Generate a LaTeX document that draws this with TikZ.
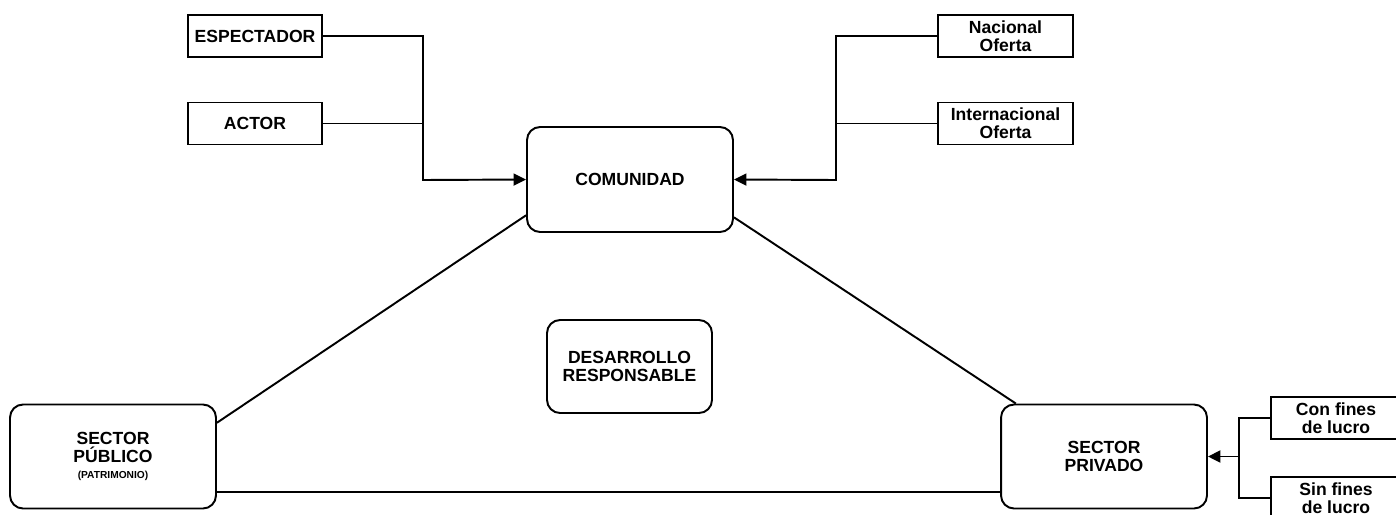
\documentclass[tikz,border=0pt]{standalone}
\usepackage{fontspec}
\setmainfont{Liberation Sans}
\usetikzlibrary{
    arrows.meta,
    calc,
    positioning
}
\tikzset{
    caja/.style={draw, line width=1.1pt, minimum width=2.68cm, minimum height=0.84cm,
        align=center, inner sep=1pt, font=\fontsize{10}{10}\selectfont\bfseries},
    bloque/.style={caja, rounded corners=0.26cm, minimum width=4.12cm, minimum height=2.08cm},
    linea/.style={line width=1.1pt},
    flecha/.style={linea, -{Triangle[length=0.25cm, width=0.24cm]}}
}

\begin{document}
\begin{tikzpicture}[x=0.02cm, y=-0.02cm]
    \clip (0, 0) rectangle (1396, 514);
    % nodos centrales
    \node[bloque, minimum height=2.1cm] (com) at (630, 179.5) {COMUNIDAD};
    \node[bloque, minimum width=3.3cm, minimum height=1.86cm] (des) at (629.5, 366.5) {DESARROLLO\\RESPONSABLE};
    \node[bloque] (pub) at (113, 456.5) {SECTOR\\P\'UBLICO\\[-1pt]{\fontsize{5.8}{6}\selectfont (PATRIMONIO)}};
    \node[bloque] (pri) at (1104, 456.5) {SECTOR\\PRIVADO};
    % cajas laterales
    \node[caja] (esp) at (255, 36) {ESPECTADOR};
    \node[caja] (act) at (255, 123.5) {ACTOR};
    \node[caja, minimum width=2.7cm] (nac) at (1005.5, 36) {Nacional\\Oferta};
    \node[caja, minimum width=2.7cm] (int) at (1005.5, 123.5) {Internacional\\Oferta};
    \node[caja, minimum width=2.6cm] (con) at (1336, 418) {Con fines\\de lucro};
    \node[caja, minimum width=2.6cm] (sin) at (1336, 498) {Sin fines\\de lucro};
    % uniones
    \coordinate (jl) at (423, 180);
    \coordinate (jr) at (836, 180);
    \coordinate (jp) at (1239, 0);
    \draw[flecha] (esp.east) -| (jl) -- (com.west);
    \draw[linea] (act.east) -- (act.east -| jl);
    \draw[flecha] (nac.west) -| (jr) -- (com.east);
    \draw[linea] (int.west) -- (int.west -| jr);
    \draw[linea] (con.west) -| (jp |- sin.west) -- (sin.west);
    \draw[flecha] (jp |- pri.east) -- (pri.east);
    % triangulo
    \draw[linea] (com.199) -- (pub.18);
    \draw[linea] (com.340.5) -- (pri.149.4);
    \draw[linea] (pub.341) -- (pri.199);
\end{tikzpicture}
\end{document}
